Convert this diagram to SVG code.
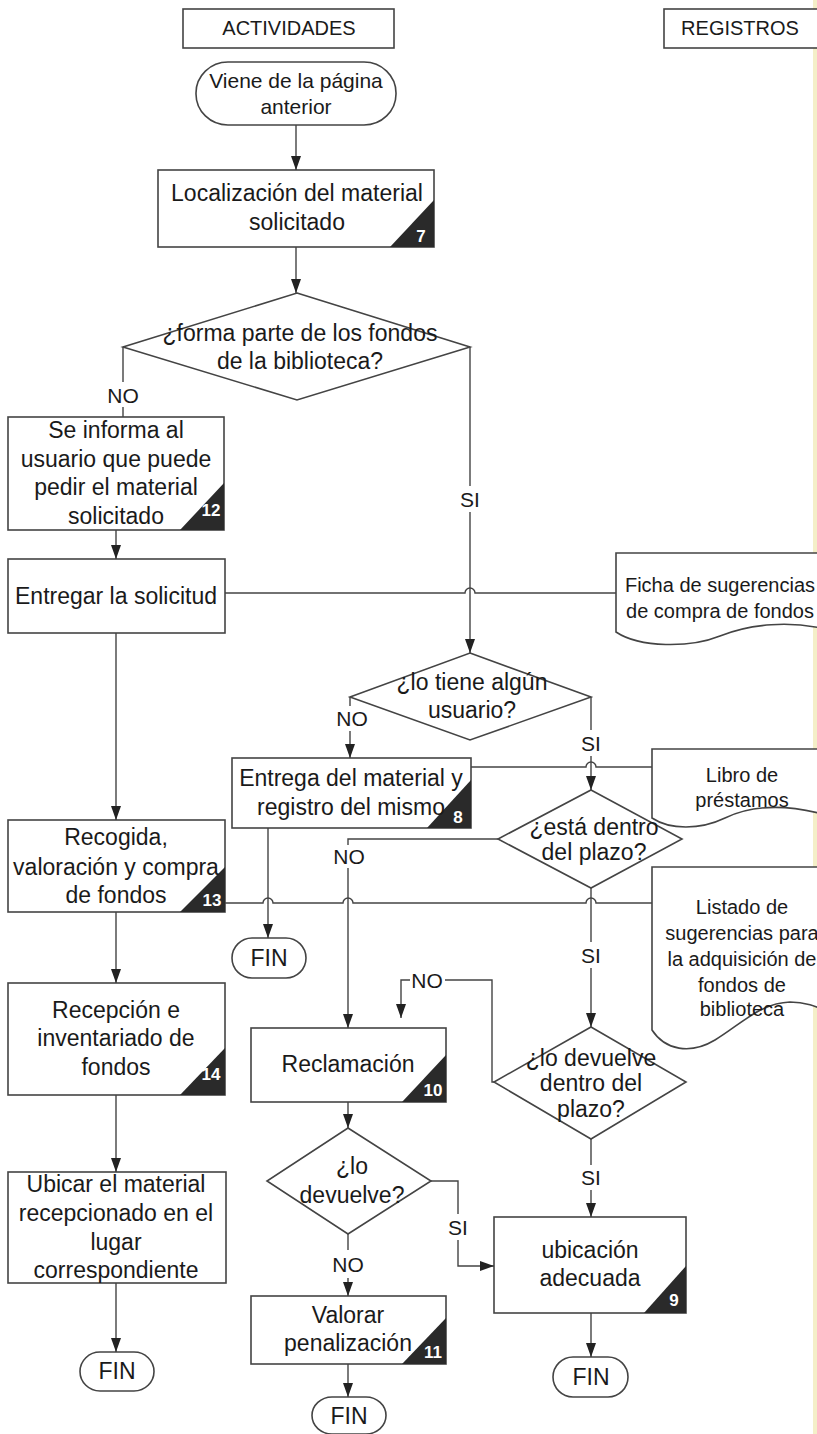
<svg xmlns="http://www.w3.org/2000/svg" width="817" height="1434" viewBox="0 0 817 1434">
<defs>
<marker id="arr" viewBox="0 0 14 10" refX="14" refY="5" markerWidth="14" markerHeight="10" markerUnits="userSpaceOnUse" orient="auto">
<path d="M0,0 L14,5 L0,10 Z" fill="#222"/>
</marker>
<style>
.box{fill:#fff;stroke:#444;stroke-width:1.6}
.ln{fill:none;stroke:#444;stroke-width:1.4}
.t{font-family:"Liberation Sans",Arial,sans-serif;font-size:23px;fill:#1a1a1a;text-anchor:middle;dominant-baseline:central}
.h{font-size:20px}
.d{font-size:20px}
.v{font-size:21px}
.lb{font-family:"Liberation Sans",Arial,sans-serif;font-size:21px;fill:#1a1a1a;text-anchor:middle;dominant-baseline:central}
.bd{fill:#2a2a2a}
.n{font-family:"Liberation Sans Narrow","Liberation Sans",Arial,sans-serif;font-size:17px;font-weight:bold;fill:#fff;text-anchor:middle;dominant-baseline:central}
</style>
</defs>
<rect x="0" y="0" width="817" height="1434" fill="#fff"/>
<rect x="813" y="0" width="4" height="1434" fill="#f4efc8"/>

<g id="hdr-actividades"><rect class="box" x="183" y="9" width="211" height="39"/><text class="t h" x="289" y="28">ACTIVIDADES</text></g>
<g id="hdr-registros"><rect class="box" x="664" y="9" width="170" height="39"/><text class="t h" x="740" y="28">REGISTROS</text></g>

<g id="start"><rect class="box" x="196" y="62" width="200" height="63" rx="32" ry="31"/><text class="t v" x="296" y="80">Viene de la página</text><text class="t v" x="296" y="106">anterior</text></g>

<g id="n7"><rect class="box" x="158" y="170" width="276" height="77"/><path class="bd" d="M390,247 L434,247 L434,200 Z"/><text class="t" x="297" y="193">Localización del material</text><text class="t" x="297" y="222">solicitado</text><text class="n" x="421" y="236">7</text></g>

<g id="d1"><path class="box" d="M297,293 L470,347 L297,400 L123,347 Z"/><text class="t" x="300" y="333">¿forma parte de los fondos</text><text class="t" x="300" y="361">de la biblioteca?</text></g>

<g id="n12"><rect class="box" x="8" y="417" width="216" height="113"/><path class="bd" d="M180,530 L224,530 L224,483 Z"/><text class="t" x="116" y="430">Se informa al</text><text class="t" x="116" y="459">usuario que puede</text><text class="t" x="116" y="487">pedir el material</text><text class="t" x="116" y="516">solicitado</text><text class="n" x="211" y="510">12</text></g>

<g id="entregar"><rect class="box" x="8" y="559" width="217" height="74"/><text class="t" x="116" y="596">Entregar la solicitud</text></g>

<g id="doc-ficha"><path class="box" d="M616,553 H830 V630 C790,620 750,624 720,636 C690,648 640,648 616,632 Z"/><text class="t d" x="720" y="585">Ficha de sugerencias</text><text class="t d" x="720" y="611">de compra de fondos</text></g>

<g id="d2"><path class="box" d="M470,653 L591,697 L470,740 L350,697 Z"/><text class="t" x="472" y="682">¿lo tiene algún</text><text class="t" x="472" y="710">usuario?</text></g>

<g id="n8"><rect class="box" x="232" y="758" width="239" height="70"/><path class="bd" d="M427,828 L471,828 L471,780 Z"/><text class="t" x="351" y="778">Entrega del material y</text><text class="t" x="351" y="807">registro del mismo</text><text class="n" x="458" y="817">8</text></g>

<g id="doc-libro"><path class="box" d="M652,818 C670,830 700,830 725,818 C750,806 785,803 830,816 V749 H652 Z"/><text class="t d" x="742" y="775">Libro de</text><text class="t d" x="742" y="800">préstamos</text></g>

<g id="d3"><path class="box" d="M591,790 L682,839 L591,888 L498,839 Z"/><text class="t" x="594" y="827">¿está dentro</text><text class="t" x="594" y="852">del plazo?</text></g>

<g id="n13"><rect class="box" x="8" y="820" width="217" height="92"/><path class="bd" d="M180,912 L225,912 L225,867 Z"/><text class="t" x="116" y="837">Recogida,</text><text class="t" x="116" y="867">valoración y compra</text><text class="t" x="116" y="895">de fondos</text><text class="n" x="212" y="900">13</text></g>

<g id="fin1"><rect class="box" x="232" y="938" width="74" height="40" rx="20" ry="20"/><text class="t" x="269" y="958">FIN</text></g>

<g id="doc-listado"><path class="box" d="M652,1030 C665,1050 690,1055 715,1040 C740,1025 760,1003 790,1002 C805,1002 815,1006 830,1012 V867 H652 Z"/><text class="t d" x="742" y="907">Listado de</text><text class="t d" x="742" y="933">sugerencias para</text><text class="t d" x="742" y="959">la adquisición de</text><text class="t d" x="742" y="985">fondos de</text><text class="t d" x="742" y="1009">biblioteca</text></g>

<g id="n14"><rect class="box" x="8" y="983" width="217" height="112"/><path class="bd" d="M180,1095 L225,1095 L225,1048 Z"/><text class="t" x="116" y="1010">Recepción e</text><text class="t" x="116" y="1038">inventariado de</text><text class="t" x="116" y="1067">fondos</text><text class="n" x="211" y="1074">14</text></g>

<g id="n10"><rect class="box" x="251" y="1028" width="195" height="74"/><path class="bd" d="M402,1102 L446,1102 L446,1055 Z"/><text class="t" x="348" y="1064">Reclamación</text><text class="n" x="433" y="1090">10</text></g>

<g id="d4"><path class="box" d="M591,1027 L686,1082 L591,1139 L494,1082 Z"/><text class="t" x="591" y="1058">¿lo devuelve</text><text class="t" x="591" y="1083">dentro del</text><text class="t" x="591" y="1109">plazo?</text></g>

<g id="d5"><path class="box" d="M348,1128 L431,1181 L348,1234 L267,1181 Z"/><text class="t" x="352" y="1166">¿lo</text><text class="t" x="352" y="1195">devuelve?</text></g>

<g id="ubicar"><rect class="box" x="8" y="1172" width="218" height="111"/><text class="t" x="116" y="1184">Ubicar el material</text><text class="t" x="116" y="1213">recepcionado en el</text><text class="t" x="116" y="1242">lugar</text><text class="t" x="116" y="1270">correspondiente</text></g>

<g id="n9"><rect class="box" x="494" y="1217" width="192" height="96"/><path class="bd" d="M644,1313 L686,1313 L686,1266 Z"/><text class="t" x="590" y="1250">ubicación</text><text class="t" x="590" y="1278">adecuada</text><text class="n" x="674" y="1300">9</text></g>

<g id="n11"><rect class="box" x="251" y="1296" width="195" height="68"/><path class="bd" d="M402,1364 L446,1364 L446,1318 Z"/><text class="t" x="348" y="1315">Valorar</text><text class="t" x="348" y="1343">penalización</text><text class="n" x="433" y="1352">11</text></g>

<g id="fin2"><rect class="box" x="80" y="1352" width="74" height="39" rx="20" ry="20"/><text class="t" x="117" y="1371">FIN</text></g>
<g id="fin3"><rect class="box" x="312" y="1397" width="74" height="37" rx="20" ry="19"/><text class="t" x="349" y="1416">FIN</text></g>
<g id="fin4"><rect class="box" x="553" y="1357" width="75" height="40" rx="20" ry="20"/><text class="t" x="591" y="1377">FIN</text></g>

<g id="connectors">
<path class="ln" d="M296,125 V170" marker-end="url(#arr)"/>
<path class="ln" d="M296,247 V293" marker-end="url(#arr)"/>
<path class="ln" d="M123,347 V382 M123,407 V417"/>
<path class="ln" d="M116,530 V559" marker-end="url(#arr)"/>
<path class="ln" d="M470,347 V486"/>
<path class="ln" d="M470,512 V653" marker-end="url(#arr)"/>
<path class="ln" d="M225,593 H465 A5,5 0 0 1 475,593 H616"/>
<path class="ln" d="M116,633 V820" marker-end="url(#arr)"/>
<path class="ln" d="M350,697 V706"/>
<path class="ln" d="M350,731 V758" marker-end="url(#arr)"/>
<path class="ln" d="M591,697 V730"/>
<path class="ln" d="M591,756 V790" marker-end="url(#arr)"/>
<path class="ln" d="M471,767 H586 A5,5 0 0 1 596,767 H652"/>
<path class="ln" d="M268,828 V938" marker-end="url(#arr)"/>
<path class="ln" d="M498,839 H348 V845"/>
<path class="ln" d="M348,868 V1028" marker-end="url(#arr)"/>
<path class="ln" d="M591,888 V942"/>
<path class="ln" d="M591,968 V1027" marker-end="url(#arr)"/>
<path class="ln" d="M225,903 H263 A5,5 0 0 1 273,903 H343 A5,5 0 0 1 353,903 H586 A5,5 0 0 1 596,903 H652"/>
<path class="ln" d="M116,912 V983" marker-end="url(#arr)"/>
<path class="ln" d="M116,1095 V1172" marker-end="url(#arr)"/>
<path class="ln" d="M116,1283 V1352" marker-end="url(#arr)"/>
<path class="ln" d="M494,1082 H492 V980 H445"/>
<path class="ln" d="M410,980 H401 V1018" marker-end="url(#arr)"/>
<path class="ln" d="M348,1102 V1128" marker-end="url(#arr)"/>
<path class="ln" d="M591,1139 V1165"/>
<path class="ln" d="M591,1190 V1217" marker-end="url(#arr)"/>
<path class="ln" d="M431,1181 H458 V1214"/>
<path class="ln" d="M458,1240 V1266 H494" marker-end="url(#arr)"/>
<path class="ln" d="M348,1234 V1250"/>
<path class="ln" d="M348,1278 V1296" marker-end="url(#arr)"/>
<path class="ln" d="M348,1364 V1397" marker-end="url(#arr)"/>
<path class="ln" d="M591,1313 V1357" marker-end="url(#arr)"/>
<text class="lb" x="123" y="395">NO</text>
<text class="lb" x="470" y="499">SI</text>
<text class="lb" x="352" y="718">NO</text>
<text class="lb" x="591" y="743">SI</text>
<text class="lb" x="349" y="856">NO</text>
<text class="lb" x="591" y="955">SI</text>
<text class="lb" x="427" y="980">NO</text>
<text class="lb" x="591" y="1177">SI</text>
<text class="lb" x="458" y="1227">SI</text>
<text class="lb" x="348" y="1264">NO</text>
</g>
</svg>
